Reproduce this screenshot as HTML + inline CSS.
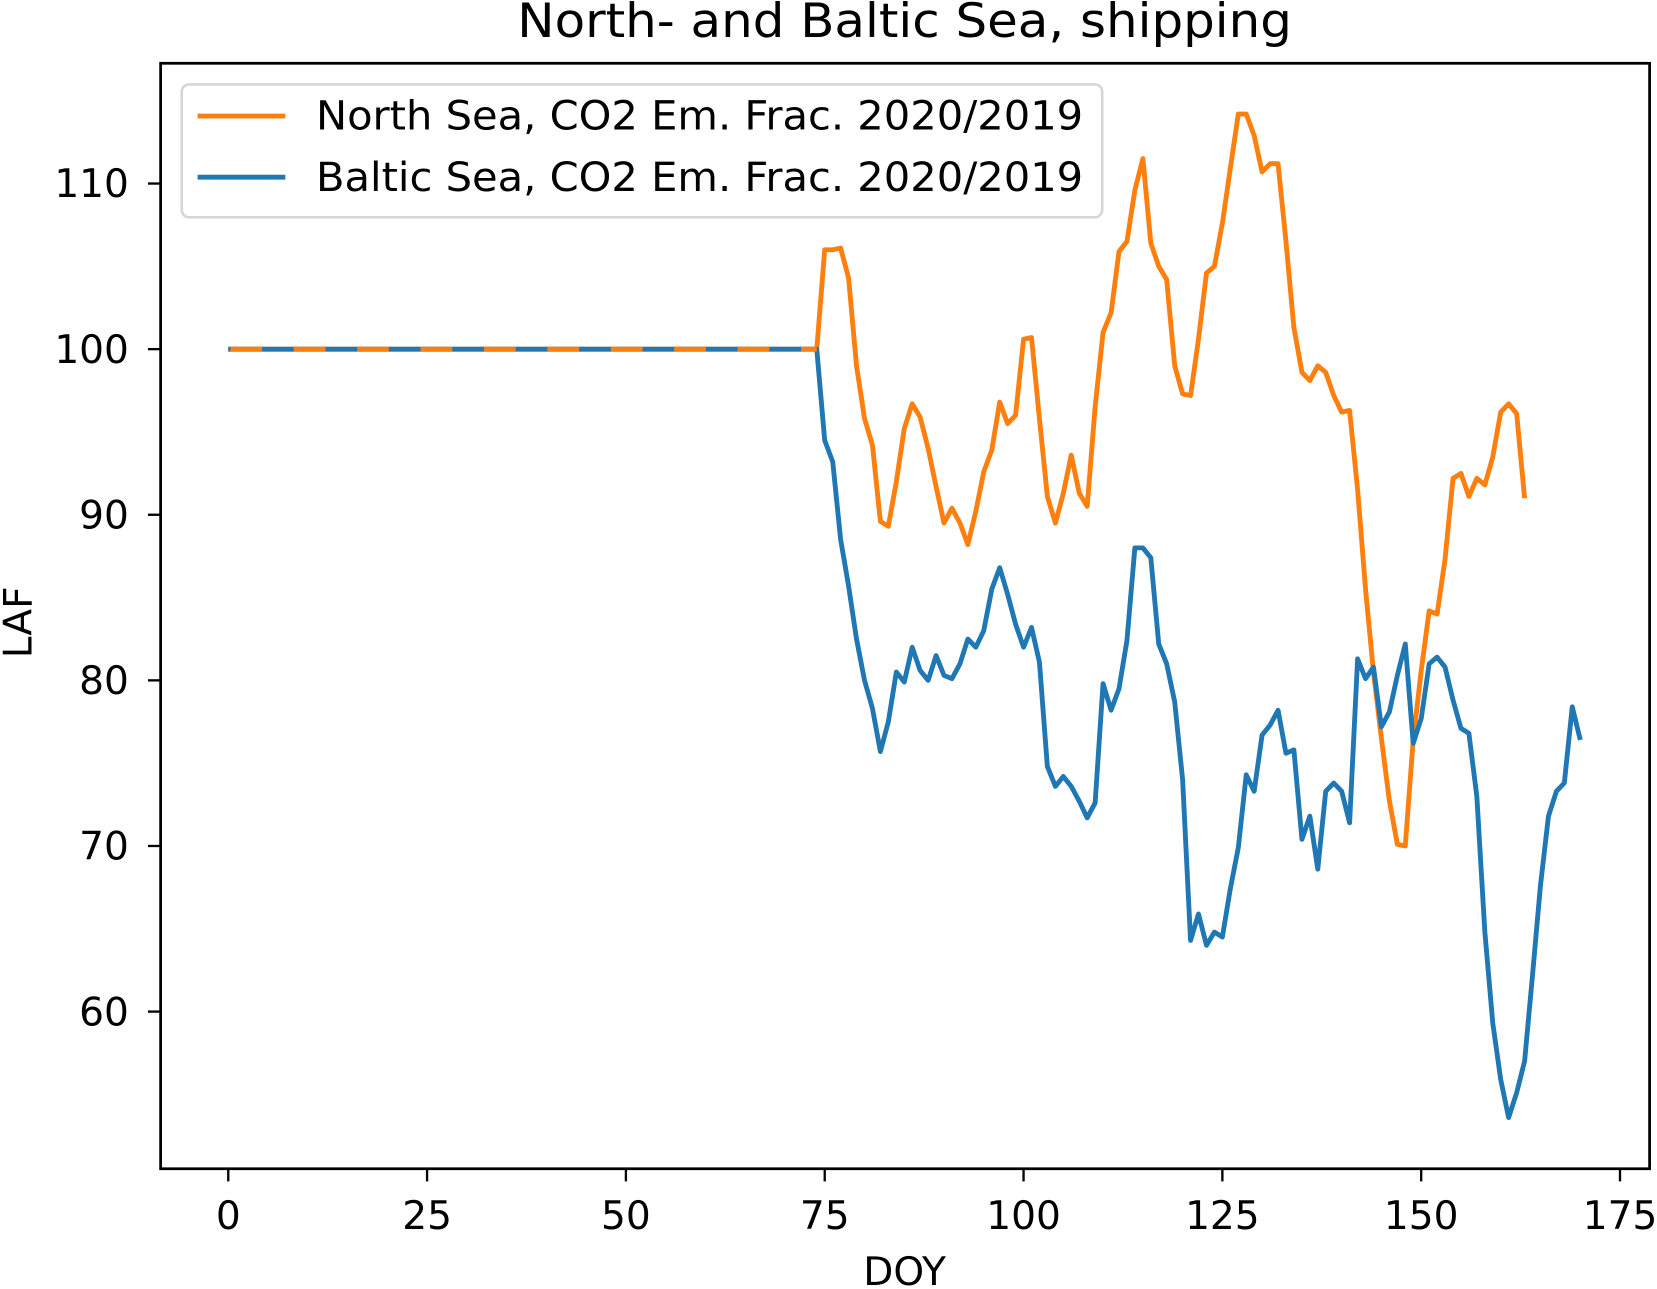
<!DOCTYPE html>
<html><head><meta charset="utf-8"><style>
html,body{margin:0;padding:0;background:#fff}
svg{display:block}
text{font-family:"DejaVu Sans","Liberation Sans",sans-serif;fill:#000}
</style></head><body>
<svg id="chart" width="1657" height="1289" viewBox="0 0 1568 1222" preserveAspectRatio="none" xmlns="http://www.w3.org/2000/svg">
<text x="856" y="35" font-size="45" text-anchor="middle" textLength="733" lengthAdjust="spacingAndGlyphs">North- and Baltic Sea, shipping</text>
<g id="axes"></g>
<g id="plot"></g>
<rect x="152" y="60" width="1409" height="1048" fill="none" stroke="#000" stroke-width="2.6"/>
<g>
<rect x="172" y="80" width="871" height="126" rx="7" fill="#fff" fill-opacity="0.8" stroke="#d6d6d6" stroke-width="2.5"/>
<line x1="187" y1="110" x2="270" y2="110" stroke="#ff7f0e" stroke-width="4.6"/>
<text x="299" y="123" font-size="38" textLength="726" lengthAdjust="spacingAndGlyphs">North Sea, CO2 Em. Frac. 2020/2019</text>
<line x1="187" y1="168" x2="270" y2="168" stroke="#1f77b4" stroke-width="4.6"/>
<text x="299" y="181" font-size="38" textLength="726" lengthAdjust="spacingAndGlyphs">Baltic Sea, CO2 Em. Frac. 2020/2019</text>
</g>
<text x="856" y="1218" font-size="37" text-anchor="middle">DOY</text>
<text x="0" y="0" font-size="37" text-anchor="middle" transform="translate(30,590) rotate(-90)">LAF</text>
</svg>
<script>
const xTicks = [0,25,50,75,100,125,150,175];
const yTicks = [60,70,80,90,100,110];
const flatDays = [0,1,2,3,4,5,6,7,8,9,10,11,12,13,14,15,16,17,18,19,20,21,22,23,24,25,26,27,28,29,30,31,32,33,34,35,36,37,38,39,40,41,42,43,44,45,46,47,48,49,50,51,52,53,54,55,56,57,58,59,60,61,62,63,64,65,66,67,68,69,70,71,72,73,74];
const flatValue = 100;
const northDays = [75,76,77,78,79,80,81,82,83,84,85,86,87,88,89,90,91,92,93,94,95,96,97,98,99,100,101,102,103,104,105,106,107,108,109,110,111,112,113,114,115,116,117,118,119,120,121,122,123,124,125,126,127,128,129,130,131,132,133,134,135,136,137,138,139,140,141,142,143,144,145,146,147,148,149,150,151,152,153,154,155,156,157,158,159,160,161,162,163];
const northValues = [106,106,106.1,104.3,99,95.8,94.2,89.6,89.3,92,95.2,96.7,95.9,94,91.7,89.5,90.4,89.5,88.2,90.2,92.6,93.9,96.8,95.5,96,100.6,100.7,95.8,91.1,89.5,91.3,93.6,91.3,90.5,96.5,101,102.2,105.9,106.5,109.6,111.5,106.4,105,104.2,99,97.3,97.2,100.6,104.6,105,107.6,110.9,114.2,114.2,112.9,110.7,111.2,111.2,106.5,101.3,98.6,98.1,99,98.6,97.2,96.2,96.3,91.5,85.5,80.5,76.5,72.7,70.1,70,76.4,80.6,84.2,84,87.3,92.2,92.5,91.1,92.2,91.8,93.5,96.2,96.7,96.1,91];
const balticDays = [75,76,77,78,79,80,81,82,83,84,85,86,87,88,89,90,91,92,93,94,95,96,97,98,99,100,101,102,103,104,105,106,107,108,109,110,111,112,113,114,115,116,117,118,119,120,121,122,123,124,125,126,127,128,129,130,131,132,133,134,135,136,137,138,139,140,141,142,143,144,145,146,147,148,149,150,151,152,153,154,155,156,157,158,159,160,161,162,163,164,165,166,167,168,169,170];
const balticValues = [94.5,93.2,88.5,85.7,82.5,80,78.3,75.7,77.5,80.5,79.9,82,80.6,80,81.5,80.3,80.1,81,82.5,82,83,85.5,86.8,85.2,83.4,82,83.2,81.1,74.8,73.6,74.2,73.6,72.7,71.7,72.6,79.8,78.2,79.5,82.4,88,88,87.4,82.2,81,78.7,74,64.3,65.9,64,64.8,64.5,67.4,69.9,74.3,73.3,76.7,77.3,78.2,75.6,75.8,70.4,71.8,68.6,73.3,73.8,73.3,71.4,81.3,80.1,80.8,77.2,78.1,80.3,82.2,76.2,77.7,81,81.4,80.8,78.8,77.1,76.8,73,64.8,59.3,55.9,53.6,55.1,57,62.2,67.6,71.8,73.3,73.8,78.4,76.4];

const NS='http://www.w3.org/2000/svg';
const X = d => 216 + (d - 0) * (1533 - 216) / 175;
const Y = v => 331 - (v - 100) * (959 - 331) / 40;
const axes = document.getElementById('axes');
const plot = document.getElementById('plot');
function mk(tag, attrs, parent){const e=document.createElementNS(NS,tag);for(const k in attrs)e.setAttribute(k,attrs[k]);parent.appendChild(e);return e;}

xTicks.forEach(t=>{
  const l=mk('line',{x1:X(t),x2:X(t),y1:1108,y2:1120,stroke:'#000','stroke-width':2.2},axes);
  
  
  const tx=mk('text',{x:X(t),y:1165,'font-size':37,'text-anchor':'middle'},axes);
  tx.textContent=t;
  
  
});
yTicks.forEach(t=>{
  const l=mk('line',{x1:140,x2:152,y1:Y(t),y2:Y(t),stroke:'#000','stroke-width':2.2},axes);
  
  
  const tx=mk('text',{x:122,y:Y(t)+13,'font-size':37,'text-anchor':'end'},axes);
  tx.textContent=t;
  
  
});

function pts(days, vals){return days.map((d,i)=>X(d).toFixed(1)+','+Y(vals[i]).toFixed(1)).join(' ');}
const flatVals = flatDays.map(()=>flatValue);
const nD = flatDays.concat(northDays), nV = flatVals.concat(northValues);
const bD = flatDays.concat(balticDays), bV = flatVals.concat(balticValues);

const north = mk('polyline',{points:pts(nD,nV),fill:'none',stroke:'#ff7f0e','stroke-width':4.6,'stroke-linejoin':'round'},plot);


const baltic = mk('polyline',{points:pts(bD,bV),fill:'none',stroke:'#1f77b4','stroke-width':4.6,'stroke-linejoin':'round'},plot);


const overlap = mk('polyline',{points:pts(flatDays,flatVals),fill:'none',stroke:'#ff7f0e','stroke-width':4.6,'stroke-dasharray':'30 30','stroke-dashoffset':'-2'},plot);


</script>
</body></html>
